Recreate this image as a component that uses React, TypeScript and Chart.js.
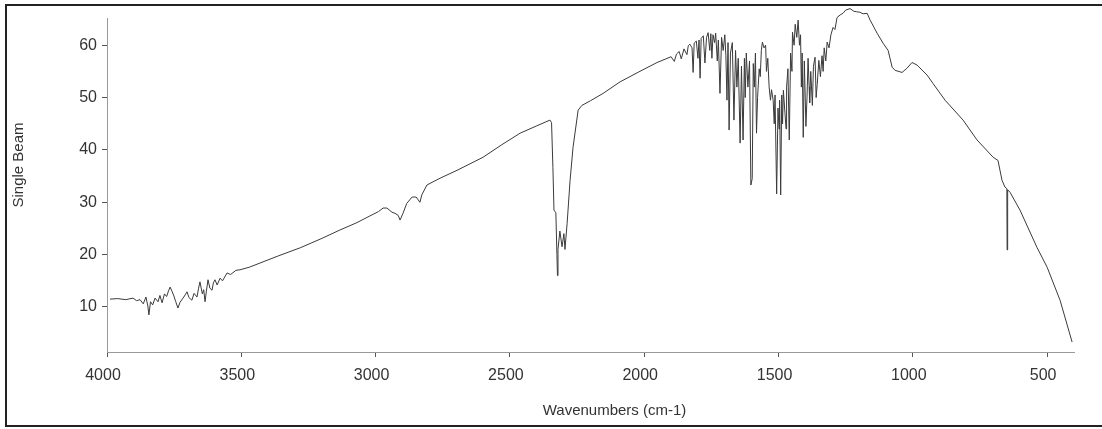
import React, { useEffect, useRef } from "react";
import { Chart, registerables } from "chart.js";

Chart.register(...registerables);

// Wavenumbers (cm-1), high to low
const wavenumbers = [
  3989, 3960, 3930, 3903, 3890, 3877, 3865, 3855, 3848, 3844, 3838, 3830, 3821, 3810, 3803, 3795,
  3786, 3778, 3770, 3765, 3758, 3751, 3744, 3736, 3728, 3717, 3709, 3702, 3695, 3684, 3676, 3665,
  3659, 3654, 3645, 3640, 3635, 3630, 3624, 3617, 3609, 3604, 3598, 3590, 3579, 3570, 3553, 3540,
  3520, 3505, 3470, 3430, 3360, 3281, 3200, 3133, 3070, 3021, 2990, 2972, 2958, 2939, 2928, 2916,
  2909, 2898, 2884, 2864, 2849, 2835, 2828, 2809, 2760, 2697, 2600, 2530, 2462, 2400, 2351, 2345,
  2340, 2336, 2329, 2325, 2323, 2321, 2314, 2306, 2299, 2295, 2287, 2276, 2265, 2246, 2232, 2200,
  2153, 2090, 2020, 1952,
  1900, 1888, 1880, 1870, 1862, 1852, 1841, 1836, 1830, 1822, 1818, 1814, 1806, 1800, 1796, 1792,
  1788, 1780, 1774, 1768, 1762, 1756, 1752, 1748, 1744, 1738, 1734, 1728, 1724, 1718, 1712, 1706,
  1700, 1696, 1692, 1688, 1684, 1679, 1672, 1666, 1660, 1655, 1650, 1643, 1638, 1632, 1627, 1624,
  1620, 1614, 1608, 1603, 1598, 1594, 1590, 1586, 1582, 1578, 1572, 1568, 1564, 1560, 1554, 1548,
  1545, 1540, 1535, 1530, 1526, 1520, 1516, 1513, 1507, 1502, 1498, 1496, 1492, 1488, 1485, 1482,
  1476, 1472, 1470, 1465, 1460, 1455, 1450, 1448, 1442, 1438, 1432, 1427, 1422, 1418, 1415, 1412,
  1408, 1404, 1398, 1394, 1390, 1386, 1384, 1380, 1374, 1370, 1364, 1360, 1356, 1350, 1344, 1338,
  1334, 1330, 1324, 1319,
  1312, 1305, 1297, 1290, 1282, 1270, 1260, 1250, 1234, 1220, 1210, 1197, 1185, 1170, 1159, 1133,
  1111, 1092, 1077, 1066, 1040, 1022, 1003, 984, 947, 925, 880, 813, 761, 701, 683, 668,
  657, 650, 649, 647, 638, 601, 538, 500, 452, 407,
];

// Single beam intensity at each wavenumber
const singleBeam = [
  11.5, 11.6, 11.4, 11.7, 11.2, 11.4, 10.6, 11.9, 10.2, 8.5, 11.0, 10.4, 11.7, 11.0, 12.2, 10.8,
  12.5, 12.0, 13.2, 13.8, 13.0, 12.1, 11.0, 9.8, 10.9, 11.7, 12.3, 12.9, 11.8, 11.3, 12.6, 11.9,
  13.6, 14.8, 12.5, 13.3, 11.0, 13.0, 15.2, 13.6, 13.2, 14.6, 15.2, 14.2, 15.5, 15.0, 16.5, 16.2,
  17.0, 17.1, 17.6, 18.4, 19.8, 21.3, 23.1, 24.7, 26.1, 27.4, 28.2, 28.9, 28.9, 28.1, 27.9, 27.5,
  26.6, 27.9, 29.8, 31.0, 31.0, 30.0, 31.4, 33.3, 34.6, 36.1, 38.6, 41.0, 43.2, 44.6, 45.7, 45.2,
  36.7, 28.5, 28.0, 20.0, 16.0, 21.0, 24.5, 21.5, 24.0, 21.0, 26.0, 34.2, 40.5, 47.6, 48.5, 49.4,
  50.8, 53.0, 54.9, 56.7,
  57.8, 56.9, 58.3, 58.8, 57.4, 59.3, 58.2, 59.9, 60.2, 59.5, 54.8, 60.4, 60.8, 57.5, 61.0, 53.7,
  61.3, 61.8, 56.6, 61.5, 62.4, 59.0, 62.2, 57.5, 62.0, 60.5, 62.3, 57.0, 61.0, 50.8, 61.5, 59.0,
  62.0, 58.0, 49.5, 60.5, 43.8, 58.5, 60.5, 45.7, 59.0, 52.0, 57.5, 41.3, 56.0, 41.9, 57.5, 50.0,
  58.5, 52.0, 57.0, 33.3, 34.5, 56.5, 52.0, 58.5, 43.2, 50.0, 55.5, 54.0, 59.0, 60.6, 59.5, 60.0,
  55.0, 57.5, 52.0, 49.5, 51.5, 49.5, 45.0, 50.5, 31.6, 48.0, 44.0, 49.5, 31.4, 50.5, 45.0, 51.4,
  47.0, 44.0, 52.0, 55.5, 41.9, 58.5, 55.0, 62.5, 60.0, 64.0, 61.5, 64.8, 60.0, 62.0, 52.0, 58.5,
  42.4, 57.0, 44.5, 50.0, 57.5, 52.0, 49.0, 55.0, 48.5, 56.0, 57.7, 50.0, 52.5, 57.1, 54.0, 58.0,
  55.0, 59.5, 57.0, 60.6,
  59.5, 62.0, 63.4, 63.0, 65.3, 65.8, 66.1, 66.7, 67.0, 66.5, 66.4, 66.3, 66.0, 66.1, 64.8, 62.3,
  60.4, 59.0, 55.8, 55.2, 54.8, 55.6, 56.7, 56.2, 54.3, 52.7, 49.5, 45.7, 41.9, 38.6, 38.0, 34.2,
  32.9, 32.6, 20.9, 32.4, 31.9, 28.5, 21.4, 17.6, 11.3, 3.3,
];

const xTickValues = [4000, 3500, 3000, 2500, 2000, 1500, 1000, 500];
const yTickValues = [10, 20, 30, 40, 50, 60];
const xAxisTitle = "Wavenumbers (cm-1)";
const yAxisTitle = "Single Beam";

const FONT = '"Liberation Sans", Arial, sans-serif';

export default function App() {
  const canvasRef = useRef<HTMLCanvasElement | null>(null);

  useEffect(() => {
    const canvas = canvasRef.current;
    if (!canvas) return;

    const titlePlugin = {
      id: "axisTitles",
      afterDraw(chart: any) {
        const ctx = chart.ctx as CanvasRenderingContext2D;
        const area = chart.chartArea;
        ctx.save();
        ctx.fillStyle = "#333";
        ctx.font = `15px ${FONT}`;
        ctx.textAlign = "center";
        ctx.textBaseline = "middle";
        ctx.fillText(xAxisTitle, (area.left + area.right) / 2 + 24, 411);
        ctx.translate(19, (area.top + area.bottom) / 2 - 20);
        ctx.rotate(-Math.PI / 2);
        ctx.fillText(yAxisTitle, 0, 0);
        ctx.restore();
      },
    };

    const chart = new Chart(canvas, {
      type: "line",
      data: {
        datasets: [
          {
            data: wavenumbers.map((x, i) => ({ x, y: singleBeam[i] })),
            borderColor: "#3a3a3a",
            borderWidth: 1,
            pointRadius: 0,
            tension: 0,
            fill: false,
            clip: false as any,
          },
        ],
      },
      options: {
        responsive: false,
        animation: false,
        layout: { padding: { left: 0, right: 28, top: 18, bottom: 0 } },
        plugins: {
          legend: { display: false },
          tooltip: { enabled: false },
        },
        scales: {
          x: {
            type: "linear",
            reverse: true,
            min: 400,
            max: 4000,
            afterBuildTicks: (s: any) => {
              s.ticks = xTickValues.map((v) => ({ value: v }));
            },
            afterFit: (s: any) => {
              s.height = 77;
            },
            ticks: {
              color: "#333",
              font: { size: 16, family: FONT },
              padding: 9,
              labelOffset: -4,
              maxRotation: 0,
              autoSkip: false,
              callback: (v: any) => String(v),
            },
            grid: {
              drawOnChartArea: false,
              drawTicks: true,
              tickLength: 5,
              color: "#555",
            },
            border: { display: true, color: "#999", dash: [1, 4] },
          },
          y: {
            type: "linear",
            min: 1.4,
            max: 65.2,
            afterBuildTicks: (s: any) => {
              s.ticks = yTickValues.map((v) => ({ value: v }));
            },
            afterFit: (s: any) => {
              s.width = 107;
            },
            ticks: {
              color: "#333",
              font: { size: 16, family: FONT },
              padding: 5,
              callback: (v: any) => String(v),
            },
            grid: {
              drawOnChartArea: false,
              drawTicks: true,
              tickLength: 5,
              color: "#555",
            },
            border: { display: true, color: "#999", dash: [1, 4] },
          },
        },
      },
      plugins: [titlePlugin],
    });

    return () => chart.destroy();
  }, []);

  return (
    <div
      style={{
        position: "fixed",
        left: 0,
        top: 0,
        width: 1102,
        height: 429,
        background: "#fff",
      }}
    >
      <div
        style={{
          position: "absolute",
          left: 5,
          top: 4,
          width: 1097,
          height: 423,
          boxSizing: "border-box",
          borderLeft: "2px solid #222",
          borderTop: "2px solid #222",
          borderBottom: "2px solid #222",
        }}
      />
      <canvas
        ref={canvasRef}
        width={1102}
        height={429}
        style={{ position: "absolute", left: 0, top: 0, width: 1102, height: 429 }}
      />
    </div>
  );
}
